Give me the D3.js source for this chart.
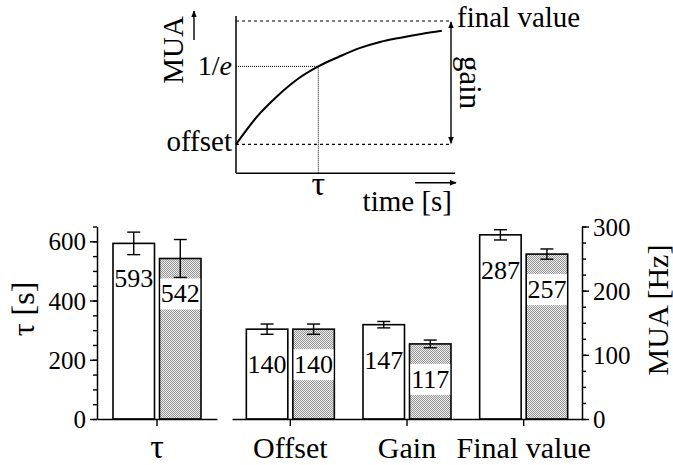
<!DOCTYPE html>
<html><head><meta charset="utf-8">
<script src="https://cdn.jsdelivr.net/npm/d3@7"></script>
<style>
html,body{margin:0;padding:0;background:#fff;}
svg{display:block;font-family:"Liberation Serif","DejaVu Serif",serif;}
</style></head>
<body>
<svg id="c" width="673" height="465"></svg>
<script>
// ---- data ----
const categories = ["τ", "Offset", "Gain", "Final value"];
const series = ["control", "test"];
const controlValues = [593, 140, 147, 287];
const testValues = [542, 140, 117, 257];
const controlErrors = [38, 8, 5, 8];
const testErrors = [64, 8, 6, 8];
const leftTicks = [0, 200, 400, 600];
const rightTicks = [0, 100, 200, 300];
// schematic inset curve (t/τ, fraction of gain)
const curveT = [0, 0.25, 0.5, 0.75, 1, 1.25, 1.5, 1.75, 2, 2.25, 2.5];
const curveY = [0, 0.22, 0.39, 0.53, 0.632, 0.71, 0.78, 0.83, 0.865, 0.895, 0.92];

const svg = d3.select("#c");
const defs = svg.append("defs");
const pat = defs.append("pattern").attr("id","shade").attr("width",2).attr("height",2)
  .attr("patternUnits","userSpaceOnUse");
pat.append("rect").attr("width",2).attr("height",2).attr("fill","#eeeeee");
pat.append("rect").attr("width",1).attr("height",1).attr("fill","#959595");
pat.append("rect").attr("x",1).attr("y",1).attr("width",1).attr("height",1).attr("fill","#959595");

// ---- scales ----
const y0 = 419, yTop = 226.5;
const yL = d3.scaleLinear().domain([0, 650]).range([y0, yTop]);
const yR = d3.scaleLinear().domain([0, 300]).range([y0, yTop]);
const leftX = 97, rightX = 582;
const xTau = d3.scaleBand().domain([categories[0]]).range([leftX, 217]);
const xMua = d3.scaleBand().domain(categories.slice(1)).range([232, rightX]);
const groupW = 88;
const xSub = d3.scaleBand().domain(series).range([0, groupW]).paddingInner(0.108);
function center(i){ return i===0 ? xTau(categories[0]) + xTau.bandwidth()/2
                                 : xMua(categories[i]) + xMua.bandwidth()/2; }
function yScale(i){ return i===0 ? yL : yR; }

// ---- bars ----
const rows = [];
categories.forEach((c,i)=>{
  rows.push({i, s:"control", v:controlValues[i], e:controlErrors[i]});
  rows.push({i, s:"test", v:testValues[i], e:testErrors[i]});
});
const g = svg.append("g");
rows.forEach(d=>{
  const ys = yScale(d.i);
  const x = center(d.i) - groupW/2 + xSub(d.s);
  const w = xSub.bandwidth();
  const top = ys(d.v);
  g.append("rect").attr("x",x).attr("y",top).attr("width",w).attr("height",y0-top)
    .attr("fill", d.s==="control" ? "#fff" : "url(#shade)")
    .attr("stroke","#000").attr("stroke-width",1.6);
  if(d.s==="test"){
    g.append("rect").attr("x",x+0.8).attr("y",top+20).attr("width",w-1.6).attr("height",31)
      .attr("fill","#fff");
  }
  const cx = x + w/2, cap = 6.5;
  const eTop = ys(d.v + d.e), eBot = ys(d.v - d.e);
  g.append("line").attr("x1",cx).attr("x2",cx).attr("y1",eTop).attr("y2",eBot)
    .attr("stroke","#000").attr("stroke-width",1.4);
  [eTop,eBot].forEach(yy=>g.append("line").attr("x1",cx-cap).attr("x2",cx+cap)
    .attr("y1",yy).attr("y2",yy).attr("stroke","#000").attr("stroke-width",1.4));
  g.append("text").attr("x",cx).attr("y",top+44).attr("text-anchor","middle")
    .attr("font-size",26).text(d.v);
});

// ---- axes ----
function styleAxis(sel){
  sel.selectAll("path").attr("stroke","#000").attr("stroke-width",1.5);
  sel.selectAll("line").attr("stroke","#000").attr("stroke-width",1.4);
  sel.selectAll("text").attr("fill","#000").attr("font-family","Liberation Serif, serif");
}
const axL = svg.append("g").attr("transform",`translate(${leftX},0)`)
  .call(d3.axisLeft(yL).tickValues(leftTicks).tickSize(7).tickSizeOuter(0).tickPadding(4));
axL.selectAll("text").attr("font-size",25).attr("dy","0.34em");
styleAxis(axL);
const axLm = svg.append("g").attr("transform",`translate(${leftX},0)`)
  .call(d3.axisLeft(yL).tickValues(d3.range(0,651,50)).tickSize(4).tickSizeOuter(0).tickFormat(""));
axLm.select("path").remove(); styleAxis(axLm);

const axR = svg.append("g").attr("transform",`translate(${rightX},0)`)
  .call(d3.axisRight(yR).tickValues(rightTicks).tickSize(7).tickSizeOuter(0).tickPadding(4));
axR.selectAll("text").attr("font-size",25).attr("dy","0.34em");
styleAxis(axR);
const axRm = svg.append("g").attr("transform",`translate(${rightX},0)`)
  .call(d3.axisRight(yR).tickValues(d3.range(0,301,25)).tickSize(4).tickSizeOuter(0).tickFormat(""));
axRm.select("path").remove(); styleAxis(axRm);

const axB1 = svg.append("g").attr("transform",`translate(0,${y0})`)
  .call(d3.axisBottom(xTau).tickSize(7).tickSizeOuter(0));
const axB2 = svg.append("g").attr("transform",`translate(0,${y0})`)
  .call(d3.axisBottom(xMua).tickSize(7).tickSizeOuter(0));
[axB1,axB2].forEach(a=>{ a.selectAll("text").attr("font-size",30).attr("y",39).attr("dy",0); styleAxis(a); });
axB1.selectAll("text").attr("font-size",34);

svg.append("text").attr("transform","translate(34,309) rotate(-90)").attr("text-anchor","middle")
  .attr("font-size",32).text("τ [s]");
svg.append("text").attr("transform","translate(668,310) rotate(-90)").attr("text-anchor","middle")
  .attr("font-size",30).text("MUA [Hz]");

// ---- inset schematic ----
const ix = d3.scaleLinear().domain([0, 2.66]).range([236, 455]);
const iy = d3.scaleLinear().domain([0, 1]).range([144.3, 21]);
const inset = svg.append("g");
const iBottom = 173.3;
inset.append("line").attr("x1",236).attr("x2",236).attr("y1",16).attr("y2",iBottom)
  .attr("stroke","#000").attr("stroke-width",1.5);
inset.append("line").attr("x1",236).attr("x2",ix(2.66)).attr("y1",iBottom).attr("y2",iBottom)
  .attr("stroke","#000").attr("stroke-width",1.5);
[0,1].forEach(v=>inset.append("line").attr("x1",236).attr("x2",452).attr("y1",iy(v)).attr("y2",iy(v))
  .attr("stroke","#000").attr("stroke-width",1.2).attr("stroke-dasharray","3,3"));
inset.append("line").attr("x1",236).attr("x2",ix(1)).attr("y1",iy(0.632)).attr("y2",iy(0.632))
  .attr("stroke","#000").attr("stroke-width",1).attr("stroke-dasharray","1,1");
inset.append("line").attr("x1",ix(1)).attr("x2",ix(1)).attr("y1",iy(0.632)).attr("y2",iBottom)
  .attr("stroke","#000").attr("stroke-width",1).attr("stroke-dasharray","1,1");
const pts = curveT.map((t,k)=>[t, curveY[k]]);
inset.append("path").datum(pts)
  .attr("d", d3.line().x(d=>ix(d[0])).y(d=>iy(d[1])).curve(d3.curveMonotoneX))
  .attr("fill","none").attr("stroke","#000").attr("stroke-width",2);
const mk = defs.append("marker").attr("id","ah").attr("viewBox","0 0 10 10").attr("refX",9).attr("refY",5)
  .attr("markerWidth",7).attr("markerHeight",7).attr("markerUnits","userSpaceOnUse").attr("orient","auto-start-reverse");
mk.append("path").attr("d","M0,1 L10,5 L0,9 Z").attr("fill","#000");
inset.append("line").attr("x1",451).attr("x2",451).attr("y1",iy(1)+1).attr("y2",iy(0)-1)
  .attr("stroke","#000").attr("stroke-width",1.4)
  .attr("marker-start","url(#ah)").attr("marker-end","url(#ah)");
inset.append("line").attr("x1",194).attr("x2",194).attr("y1",40).attr("y2",11)
  .attr("stroke","#000").attr("stroke-width",1.4).attr("marker-end","url(#ah)");
inset.append("line").attr("x1",415).attr("x2",456).attr("y1",182.7).attr("y2",182.7)
  .attr("stroke","#000").attr("stroke-width",1.4).attr("marker-end","url(#ah)");
inset.append("text").attr("x",232).attr("y",iy(0)+7).attr("text-anchor","end").attr("font-size",29).text("offset");
const te = inset.append("text").attr("x",232).attr("y",iy(0.632)+9).attr("text-anchor","end").attr("font-size",28);
te.append("tspan").text("1/");
te.append("tspan").attr("font-style","italic").text("e");
inset.append("text").attr("x",ix(1)).attr("y",195).attr("text-anchor","middle").attr("font-size",34).text("τ");
inset.append("text").attr("x",452).attr("y",211).attr("text-anchor","end").attr("font-size",29).text("time [s]");
inset.append("text").attr("x",457).attr("y",27).attr("font-size",29).text("final value");
inset.append("text").attr("transform",`translate(460,${(iy(0)+iy(1))/2}) rotate(90)`)
  .attr("text-anchor","middle").attr("font-size",31).text("gain");
inset.append("text").attr("transform","translate(183,50) rotate(-90)").attr("text-anchor","middle")
  .attr("font-size",29).text("MUA");
</script>
</body></html>
